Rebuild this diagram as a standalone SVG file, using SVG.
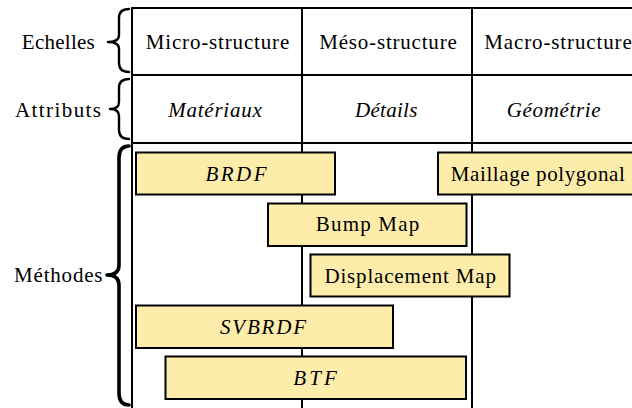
<svg xmlns="http://www.w3.org/2000/svg" width="632" height="408" viewBox="0 0 632 408">
<style>
  text { font-family: 'Liberation Serif', 'Times New Roman', serif; font-size: 21px; fill: #000; text-anchor: middle; }
  .it { font-style: italic; }
  .grid line { stroke: #000; stroke-width: 2; }
  .box { fill: #FEEDAA; stroke: #000; stroke-width: 2; }
  .brace { fill: none; stroke: #000; stroke-linecap: round; stroke-linejoin: round; }
</style>
<rect width="632" height="408" fill="#fff"/>
<g id="grid" class="grid">
  <line x1="131" y1="8" x2="640" y2="8"/>
  <line x1="131" y1="75" x2="640" y2="75"/>
  <line x1="131" y1="143" x2="640" y2="143"/>
  <line x1="132" y1="7" x2="132" y2="410"/>
  <line x1="302" y1="7" x2="302" y2="410"/>
  <line x1="472" y1="7" x2="472" y2="410"/>
</g>
<g id="braces">
  <path class="brace" stroke-width="2.4" d="M129,9 Q119,9 119,18 L119,35 Q119,42 108,42 Q119,42 119,49 L119,63 Q119,72 129,72"/>
  <path class="brace" stroke-width="2.4" d="M129,79 Q119,79 119,88 L119,102 Q119,109 110,109 Q119,109 119,116 L119,130 Q119,139 129,139"/>
  <path class="brace" stroke-width="3.6" d="M129,146 Q119,146 119,158 L119,265 Q119,275 107,275 Q119,275 119,285 L119,393 Q119,405 129,405"/>
</g>
<g id="labels">
  <text x="58.3" y="49" textLength="73" lengthAdjust="spacing">Echelles</text>
  <text x="58" y="117" textLength="86" lengthAdjust="spacing">Attributs</text>
  <text x="58.3" y="282" textLength="88.5" lengthAdjust="spacing">Méthodes</text>
</g>
<g id="cell-micro"><text x="217.5" y="49" textLength="143.5" lengthAdjust="spacing">Micro-structure</text></g>
<g id="cell-meso"><text x="388" y="49" textLength="137.5" lengthAdjust="spacing">Méso-structure</text></g>
<g id="cell-macro"><text x="558" y="49" textLength="147.5" lengthAdjust="spacing">Macro-structure</text></g>
<g id="cell-materiaux"><text class="it" x="215" y="117" textLength="93.5" lengthAdjust="spacing">Matériaux</text></g>
<g id="cell-details"><text class="it" x="386.2" y="117" textLength="62.5" lengthAdjust="spacing">Détails</text></g>
<g id="cell-geometrie"><text class="it" x="553.7" y="117" textLength="94" lengthAdjust="spacing">Géométrie</text></g>
<g id="node-brdf">
  <rect class="box" x="136" y="152.5" width="199" height="42"/>
  <text class="it" x="236" y="181" textLength="61" lengthAdjust="spacing">BRDF</text>
</g>
<g id="node-maillage">
  <rect class="box" x="438" y="152.5" width="202" height="42"/>
  <text x="537.8" y="180.5" textLength="174" lengthAdjust="spacing">Maillage polygonal</text>
</g>
<g id="node-bump">
  <rect class="box" x="268" y="203.5" width="198.5" height="42.5"/>
  <text x="367.5" y="231" textLength="103.5" lengthAdjust="spacing">Bump Map</text>
</g>
<g id="node-displacement">
  <rect class="box" x="310.5" y="254.5" width="199" height="42"/>
  <text x="410.2" y="282.5" textLength="171.5" lengthAdjust="spacing">Displacement Map</text>
</g>
<g id="node-svbrdf">
  <rect class="box" x="136" y="305.5" width="257" height="42.5"/>
  <text class="it" x="263" y="334" textLength="86" lengthAdjust="spacing">SVBRDF</text>
</g>
<g id="node-btf">
  <rect class="box" x="165.5" y="356.5" width="300.5" height="42.5"/>
  <text class="it" x="315" y="385" textLength="43.5" lengthAdjust="spacing">BTF</text>
</g>
</svg>
